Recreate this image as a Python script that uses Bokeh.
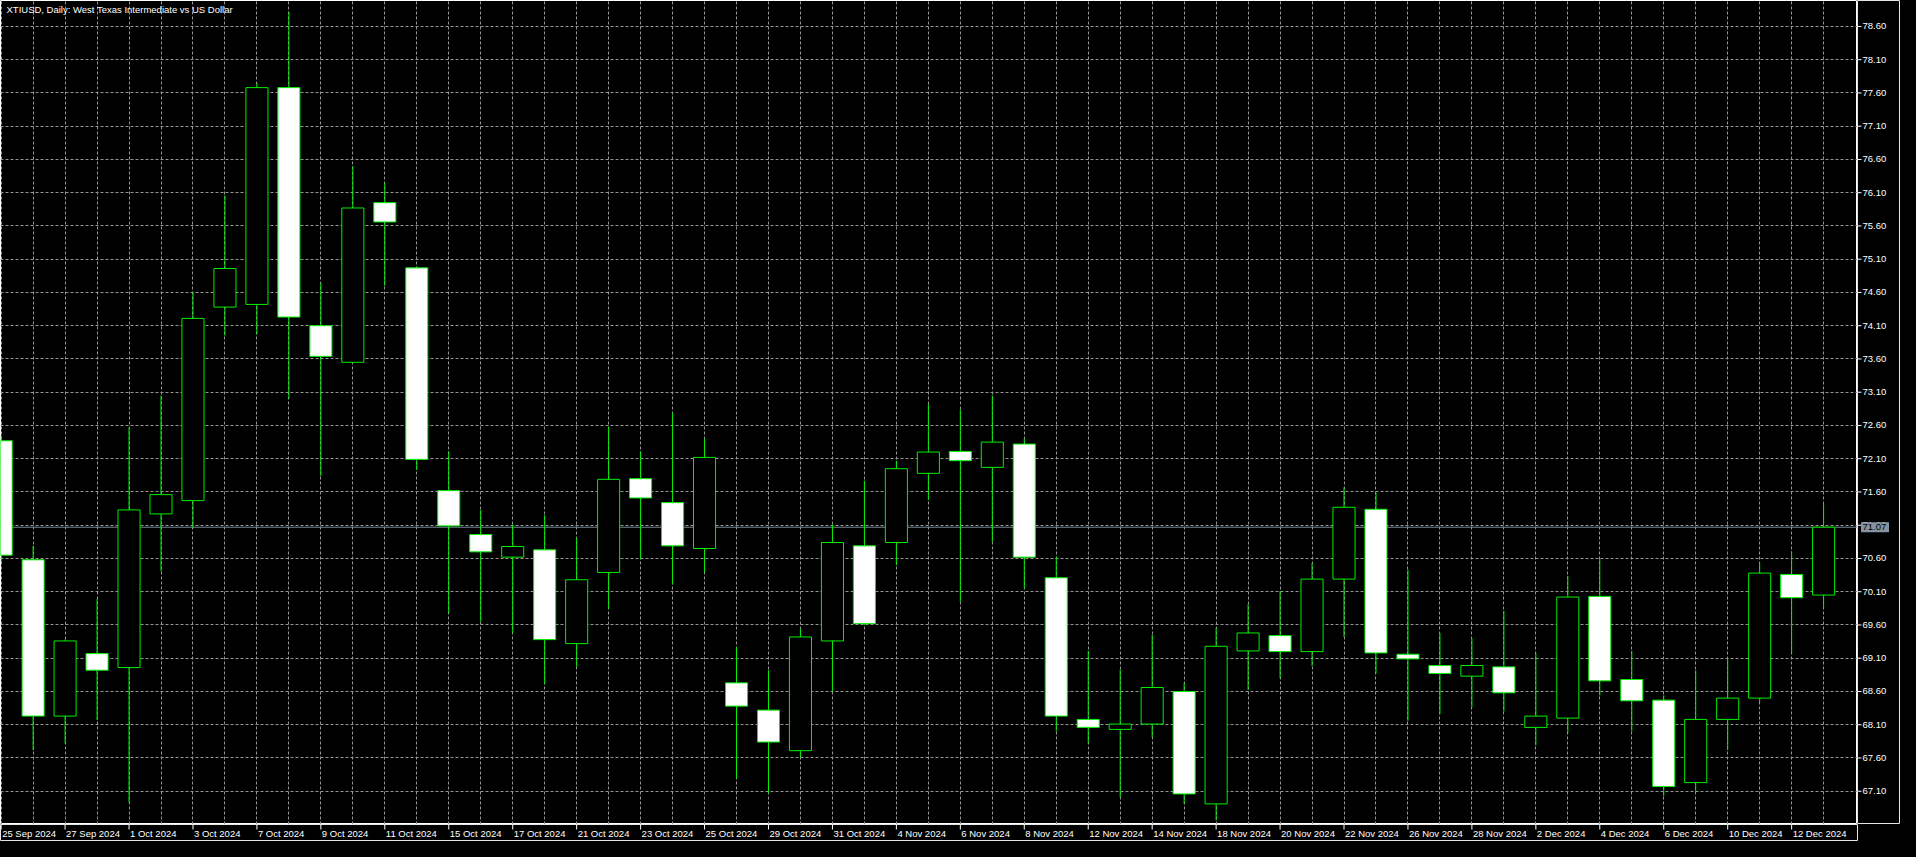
from bokeh.plotting import figure
from bokeh.layouts import column, row
from bokeh.models import ColumnDataSource, FixedTicker, Range1d, Label, Span, GlobalInlineStyleSheet
from bokeh.core.properties import value
from bokeh.embed import file_html
from bokeh.resources import INLINE

# XTIUSD daily candles, 25 Sep 2024 .. 13 Dec 2024
dates = ["25 Sep 2024", "26 Sep 2024", "27 Sep 2024", "30 Sep 2024", "1 Oct 2024", "2 Oct 2024",
         "3 Oct 2024", "4 Oct 2024", "7 Oct 2024", "8 Oct 2024", "9 Oct 2024", "10 Oct 2024",
         "11 Oct 2024", "14 Oct 2024", "15 Oct 2024", "16 Oct 2024", "17 Oct 2024", "18 Oct 2024",
         "21 Oct 2024", "22 Oct 2024", "23 Oct 2024", "24 Oct 2024", "25 Oct 2024", "28 Oct 2024",
         "29 Oct 2024", "30 Oct 2024", "31 Oct 2024", "1 Nov 2024", "4 Nov 2024", "5 Nov 2024",
         "6 Nov 2024", "7 Nov 2024", "8 Nov 2024", "11 Nov 2024", "12 Nov 2024", "13 Nov 2024",
         "14 Nov 2024", "15 Nov 2024", "18 Nov 2024", "19 Nov 2024", "20 Nov 2024", "21 Nov 2024",
         "22 Nov 2024", "25 Nov 2024", "26 Nov 2024", "27 Nov 2024", "28 Nov 2024", "29 Nov 2024",
         "2 Dec 2024", "3 Dec 2024", "4 Dec 2024", "5 Dec 2024", "6 Dec 2024", "9 Dec 2024",
         "10 Dec 2024", "11 Dec 2024", "12 Dec 2024", "13 Dec 2024"]

opens = [72.37, 70.58, 68.23, 69.17, 68.96, 71.27, 71.47, 74.38, 74.42, 77.68,
         74.10, 73.55, 75.95, 74.97, 71.62, 70.96, 70.62, 70.73, 69.32, 70.39,
         71.80, 71.44, 70.75, 68.73, 68.32, 67.71, 69.36, 70.79, 70.84, 71.88,
         72.21, 71.97, 72.32, 70.31, 68.18, 68.03, 68.11, 68.60, 66.91, 69.21,
         69.44, 69.20, 70.29, 71.34, 69.16, 68.99, 68.83, 68.97, 68.06, 68.20,
         70.03, 68.78, 68.47, 67.23, 68.18, 68.50, 70.36, 70.05]
highs = [72.45, 70.79, 69.38, 69.99, 72.57, 73.05, 74.61, 76.06, 77.75, 78.82,
         74.74, 76.50, 76.25, 74.99, 72.21, 71.33, 71.11, 71.25, 70.91, 72.58,
         72.21, 72.79, 72.40, 69.27, 68.92, 69.54, 71.11, 71.77, 72.07, 72.92,
         72.84, 73.05, 72.40, 70.63, 69.21, 68.93, 69.45, 68.73, 69.56, 69.91,
         70.11, 70.53, 71.67, 71.59, 70.43, 69.48, 69.40, 69.81, 69.18, 70.34,
         70.59, 69.21, 68.54, 68.92, 69.10, 70.54, 70.71, 71.43]
lows = [70.55, 67.72, 67.82, 68.17, 66.93, 70.41, 71.05, 73.95, 73.97, 73.00,
        71.84, 73.54, 74.70, 71.93, 69.78, 69.65, 69.48, 68.71, 68.97, 69.84,
        70.59, 70.21, 70.39, 67.29, 67.07, 67.61, 68.60, 69.60, 70.50, 71.48,
        69.95, 70.85, 70.15, 68.00, 67.82, 67.01, 67.91, 66.91, 66.66, 68.62,
        68.80, 68.98, 69.42, 68.87, 68.16, 68.26, 68.36, 68.30, 67.79, 67.98,
        68.54, 68.00, 67.03, 67.10, 67.72, 68.44, 69.16, 69.87]
closes = [70.65, 68.23, 69.36, 68.92, 71.33, 71.56, 74.21, 74.96, 77.68, 74.23,
          73.64, 75.87, 75.66, 72.09, 71.09, 70.70, 70.78, 69.38, 70.28, 71.79,
          71.51, 70.79, 72.12, 68.38, 67.84, 69.42, 70.84, 69.62, 71.95, 72.20,
          72.07, 72.35, 70.62, 68.23, 68.06, 68.11, 68.66, 67.06, 69.28, 69.48,
          69.20, 70.29, 71.37, 69.18, 69.09, 68.87, 68.99, 68.58, 68.23, 70.02,
          68.76, 68.46, 67.17, 68.18, 68.50, 70.38, 70.01, 71.07]

price_ticks = [67.10, 67.60, 68.10, 68.60, 69.10, 69.60, 70.10, 70.60, 71.10, 71.60,
               72.10, 72.60, 73.10, 73.60, 74.10, 74.60, 75.10, 75.60, 76.10, 76.60,
               77.10, 77.60, 78.10, 78.60]

title = "XTIUSD, Daily:  West Texas Intermediate vs US Dollar"

GREEN = "#00f000"
GRID = "#959595"
FONT = "Liberation Sans"
FSIZE = "9.5px"

idx = list(range(len(dates)))
label_idx = idx[::2]

src = ColumnDataSource(dict(
    x=idx, low=lows, high=highs,
    top=[max(o, c) for o, c in zip(opens, closes)],
    bottom=[min(o, c) for o, c in zip(opens, closes)],
    fill=["white" if c < o else "black" for o, c in zip(opens, closes)],
))

x_range = Range1d(-0.02, 58.06)
y_range = Range1d(66.60, 78.99)

W, H, AX_W, AX_H = 1857, 824, 43, 17


def blank(fig):
    fig.background_fill_color = "black"
    fig.border_fill_color = "black"
    fig.axis.visible = False
    fig.grid.visible = False
    fig.min_border = 0
    return fig


# main chart
p = figure(width=W, height=H, output_backend="svg", toolbar_location=None,
           x_range=x_range, y_range=y_range, min_border=0)
p.background_fill_color = "black"
p.border_fill_color = "black"
p.outline_line_color = "white"
p.outline_line_width = 1
p.xaxis.visible = False
p.yaxis.visible = False
p.xgrid.ticker = FixedTicker(ticks=idx)
p.ygrid.ticker = FixedTicker(ticks=price_ticks)
p.grid.grid_line_color = GRID
p.grid.grid_line_dash = "3 2"
p.grid.grid_line_width = 1
p.stylesheets = [GlobalInlineStyleSheet(css="body { background-color: black; }")]

p.add_layout(Span(location=closes[-1], dimension="width", line_color="#778899",
                  line_width=1, level="underlay"))

p.segment(x0="x", y0="low", x1="x", y1="high", source=src, line_color=GREEN, line_width=1)
p.vbar(x="x", top="top", bottom="bottom", width=0.69, source=src,
       fill_color="fill", line_color=GREEN, line_width=1)

p.add_layout(Label(x=x_range.start, y=y_range.end, text=title, x_offset=6, y_offset=-3,
                   text_align="left", text_baseline="top", text_color="white",
                   text_font=FONT, text_font_size=FSIZE))

# price scale on the right
r = blank(figure(width=AX_W, height=H, output_backend="svg", toolbar_location=None,
                 x_range=Range1d(0, AX_W), y_range=y_range))
r.segment(x0=0, y0=price_ticks, x1=4, y1=price_ticks, line_color="white", line_width=1)
r.text(x=5, y=price_ticks, text=["%.2f" % t for t in price_ticks], text_color="white",
       text_align="left", text_baseline="middle", text_font=value(FONT), text_font_size=FSIZE)
r.rect(x=17.5, y=closes[-1], width=28, height=10, height_units="screen",
       fill_color="#8494a4", line_color=None)
r.text(x=5, y=closes[-1], text=["%.2f" % closes[-1]], text_color="black",
       text_align="left", text_baseline="middle", text_font=value(FONT), text_font_size=FSIZE)

# date scale below
b = blank(figure(width=W + AX_W, height=AX_H, output_backend="svg", toolbar_location=None,
                 x_range=x_range, y_range=Range1d(AX_H, 0)))
b.min_border_right = AX_W
b.segment(x0=label_idx, y0=0, x1=label_idx, y1=5, line_color="white", line_width=1)
b.text(x=label_idx, y=3, text=[dates[i] for i in label_idx], x_offset=1, text_color="white",
       text_align="left", text_baseline="top", text_font=value(FONT), text_font_size=FSIZE)

layout = column(row(p, r), b)
open("out.html", "w").write(file_html(layout, INLINE))
